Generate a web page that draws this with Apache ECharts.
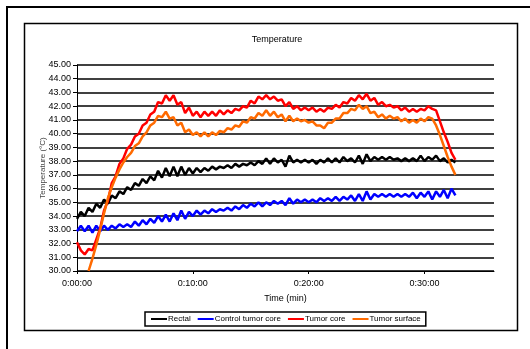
<!DOCTYPE html>
<html>
<head>
<meta charset="utf-8">
<script src="https://cdn.jsdelivr.net/npm/echarts@6/dist/echarts.min.js"></script>
<style>
  html, body { margin: 0; padding: 0; background: #fff; }
  #main { width: 530px; height: 349px; }
</style>
</head>
<body>
<div id="main"></div>
<script>
// sample times in seconds (one reading every 20 s)
const times = [
  0, 20, 40, 60, 80, 100, 120, 140, 160, 180, 200, 220, 240, 260, 280, 300, 320, 340, 360, 380,
  400, 420, 440, 460, 480, 500, 520, 540, 560, 580, 600, 620, 640, 660, 680, 700, 720, 740, 760, 780,
  800, 820, 840, 860, 880, 900, 920, 940, 960, 980, 1000, 1020, 1040, 1060, 1080, 1100, 1120, 1140, 1160, 1180,
  1200, 1220, 1240, 1260, 1280, 1300, 1320, 1340, 1360, 1380, 1400, 1420, 1440, 1460, 1480, 1500, 1520, 1540, 1560, 1580,
  1600, 1620, 1640, 1660, 1680, 1700, 1720, 1740, 1760, 1780, 1800, 1820, 1840, 1860, 1880, 1900, 1920, 1940, 1960
];

const rectal = [
  33.8, 34.3, 34.0, 34.6, 34.3, 34.9, 34.6, 35.2, 34.9, 35.5, 35.3, 35.8, 35.6, 36.1, 35.9, 36.4, 36.2, 36.7, 36.4, 36.9,
  36.6, 37.3, 36.8, 37.5, 36.9, 37.6, 36.9, 37.6, 37.0, 37.5, 37.1, 37.5, 37.2, 37.5, 37.3, 37.6, 37.4, 37.6, 37.5, 37.7,
  37.5, 37.8, 37.6, 37.8, 37.7, 37.9, 37.7, 38.0, 37.8, 38.2, 37.8, 38.2, 37.9, 38.1, 37.6, 38.4, 37.9, 38.1, 37.9, 38.1,
  37.9, 38.1, 37.8, 38.1, 37.9, 38.2, 37.9, 38.2, 37.9, 38.3, 38.0, 38.2, 37.9, 38.4, 37.8, 38.5, 38.0, 38.3, 38.1, 38.3,
  38.1, 38.3, 38.1, 38.2, 38.0, 38.2, 38.0, 38.2, 38.0, 38.4, 38.0, 38.3, 38.1, 38.4, 38.0, 38.2, 37.9, 38.1, 37.9
];

const controlCore = [
  32.9, 33.3, 32.9, 33.3, 32.8, 33.3, 32.9, 33.3, 33.0, 33.3, 33.1, 33.4, 33.2, 33.4, 33.2, 33.6, 33.3, 33.7, 33.4, 33.8,
  33.5, 34.0, 33.6, 34.1, 33.6, 34.2, 33.7, 34.4, 33.8, 34.3, 34.0, 34.4, 34.1, 34.4, 34.2, 34.5, 34.3, 34.5, 34.4, 34.6,
  34.4, 34.7, 34.5, 34.8, 34.6, 34.9, 34.7, 35.0, 34.7, 35.0, 34.8, 35.1, 34.9, 35.1, 34.8, 35.3, 34.9, 35.2, 35.0, 35.2,
  35.0, 35.2, 35.0, 35.3, 35.1, 35.3, 35.1, 35.4, 35.1, 35.4, 35.2, 35.5, 35.1, 35.6, 35.1, 35.8, 35.2, 35.6, 35.4, 35.6,
  35.4, 35.6, 35.4, 35.6, 35.4, 35.6, 35.4, 35.7, 35.3, 35.7, 35.4, 35.8, 35.2, 35.8, 35.4, 35.9, 35.3, 36.0, 35.5
];

const tumorCore = [
  32.1, 31.5, 31.2, 31.6, 31.5, 32.3, 33.1, 34.4, 35.1, 36.4, 36.9, 37.8, 38.2, 38.9, 39.2, 39.8, 40.0, 40.6, 40.8, 41.4,
  41.6, 42.3, 42.2, 42.8, 42.4, 42.8, 42.1, 42.3, 41.5, 41.9, 41.3, 41.6, 41.2, 41.6, 41.3, 41.6, 41.3, 41.7, 41.4, 41.7,
  41.5, 41.8, 41.7, 42.0, 41.9, 42.4, 42.2, 42.7, 42.5, 42.8, 42.5, 42.7, 42.4, 42.5, 42.0, 42.3, 41.8, 42.0, 41.7, 41.9,
  41.7, 41.9, 41.6, 41.8, 41.6, 41.9, 41.8, 42.1, 41.9, 42.3, 42.2, 42.6, 42.4, 42.8, 42.5, 42.9, 42.4, 42.6, 42.1, 42.3,
  42.0, 42.1, 41.9, 42.0, 41.7, 41.9, 41.6, 41.8, 41.6, 41.8, 41.7, 42.0, 41.8, 41.7, 40.9, 40.1, 39.4, 38.6, 38.1
];

const tumorSurface = [
  null, null, null, 30.0, 30.9, 31.9, 33.0, 34.2, 35.3, 36.1, 36.8, 37.4, 37.9, 38.3, 38.6, 39.1, 39.3, 39.8, 40.1, 40.6,
  40.8, 41.3, 41.2, 41.6, 41.1, 41.2, 40.6, 40.8, 40.1, 40.3, 39.9, 40.1, 39.8, 40.1, 39.8, 40.1, 39.9, 40.2, 40.1, 40.4,
  40.3, 40.6, 40.5, 40.9, 40.8, 41.2, 41.1, 41.5, 41.3, 41.7, 41.3, 41.6, 41.2, 41.4, 40.9, 41.3, 40.9, 41.1, 40.9, 41.0,
  40.8, 40.9, 40.6, 40.6, 40.4, 40.8, 40.8, 41.1, 41.1, 41.5, 41.5, 41.8, 41.7, 42.1, 41.8, 42.0, 41.5, 41.6, 41.2, 41.4,
  41.1, 41.3, 41.1, 41.2, 40.9, 41.1, 40.8, 41.0, 40.8, 41.1, 40.9, 41.2, 41.1, 40.6, 39.9, 39.1, 38.3, 37.6, 37.0
];

const seriesNames = ['Rectal', 'Control tumor core', 'Tumor core', 'Tumor surface'];
const seriesColors = ['#000000', '#0000ff', '#ff0000', '#ff6a00'];
const seriesValues = [rectal, controlCore, tumorCore, tumorSurface];

function pairs(values) {
  const out = [];
  values.forEach((v, i) => {
    if (v !== null) out.push([times[i], v]);
  });
  return out;
}

function fmtTime(sec) {
  const h = Math.floor(sec / 3600);
  const m = Math.floor((sec % 3600) / 60);
  const s = Math.round(sec % 60);
  return h + ':' + String(m).padStart(2, '0') + ':' + String(s).padStart(2, '0');
}

const font = 'Liberation Sans, Arial, sans-serif';
const chart = echarts.init(document.getElementById('main'));

const option = {
  backgroundColor: '#fff',
  animation: false,
  title: {
    text: 'Temperature',
    left: 272,
    top: 30,
    textAlign: 'center',
    textStyle: { fontFamily: font, fontSize: 9, fontWeight: 'normal', color: '#000' }
  },
  graphic: [
    {
      type: 'rect',
      shape: { x: 7, y: 7, width: 560, height: 380 },
      style: { fill: 'none', stroke: '#000', lineWidth: 2 },
      silent: true
    },
    {
      type: 'rect',
      shape: { x: 24.5, y: 23.5, width: 493, height: 307 },
      style: { fill: 'none', stroke: '#000', lineWidth: 1.5 },
      silent: true
    }
  ],
  legend: {
    left: 145,
    top: 312,
    itemWidth: 16,
    itemHeight: 2,
    itemGap: 7,
    padding: [3, 5, 3, 6],
    borderColor: '#000',
    borderWidth: 1.5,
    icon: 'rect',
    data: seriesNames,
    textStyle: { fontFamily: font, fontSize: 8, color: '#000', padding: [0, 0, 0, -4] }
  },
  grid: { left: 77, right: 36, top: 65, bottom: 78 },
  xAxis: {
    type: 'value',
    min: 0,
    max: 2160,
    interval: 600,
    name: 'Time (min)',
    nameLocation: 'middle',
    nameGap: 23,
    nameTextStyle: { fontFamily: font, fontSize: 9, color: '#000' },
    axisLine: { show: true, lineStyle: { color: '#000', width: 1 } },
    axisTick: { show: true, length: 3, lineStyle: { color: '#000' } },
    axisLabel: {
      fontFamily: font, fontSize: 9, color: '#000', margin: 8,
      showMaxLabel: false,
      formatter: v => fmtTime(v)
    },
    splitLine: { show: false }
  },
  yAxis: {
    type: 'value',
    min: 30,
    max: 45,
    interval: 1,
    name: 'Temperature (°C)',
    nameLocation: 'middle',
    nameRotate: 90,
    nameGap: 30,
    nameMoveOverlap: false,
    nameTextStyle: { fontFamily: font, fontSize: 8, color: '#444' },
    axisLine: { show: true, lineStyle: { color: '#000', width: 1 } },
    axisTick: { show: true, length: 4, lineStyle: { color: '#000' } },
    axisLabel: {
      fontFamily: font, fontSize: 9, color: '#000', margin: 6,
      formatter: v => v.toFixed(2)
    },
    splitLine: { show: true, lineStyle: { color: '#000', width: 1.5 } }
  },
  series: seriesNames.map((name, k) => ({
    name: name,
    type: 'line',
    data: pairs(seriesValues[k]),
    showSymbol: false,
    symbol: 'none',
    lineStyle: { color: seriesColors[k], width: 2.5 },
    itemStyle: { color: seriesColors[k] }
  }))
};

chart.setOption(option);
</script>
</body>
</html>
